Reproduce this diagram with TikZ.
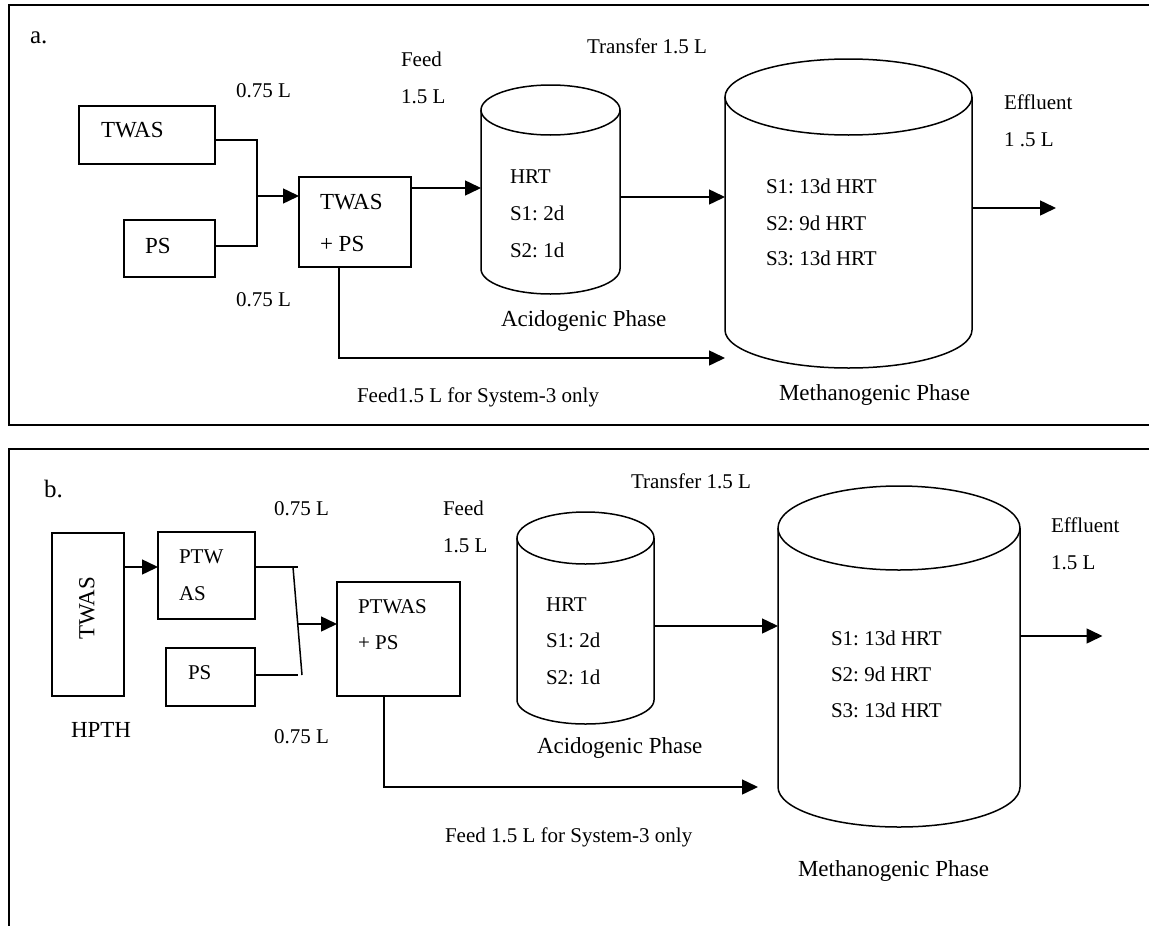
\documentclass[tikz,border=0pt]{standalone}
\usepackage{fontspec}
\setmainfont{Liberation Serif}
\usetikzlibrary{arrows.meta}
\frenchspacing
\begin{document}
\begin{tikzpicture}[x=1pt,y=-1pt,
  lbl/.style={inner sep=0pt, outer sep=0pt, anchor=base west, font=\fontsize{21}{25}\selectfont},
  big/.style={lbl, font=\fontsize{23}{27}\selectfont},
  panel/.style={lbl, font=\fontsize{25}{29}\selectfont},
  box/.style={draw, line width=1.5pt, inner sep=0pt, outer sep=0pt, anchor=north west},
  body/.style={inner sep=0pt, outer sep=0pt, anchor=north west},
  conn/.style={line width=1.5pt},
  arr/.style={conn, -{Triangle[length=16pt,width=15pt]}},
  frame/.style={line width=2pt},
  tank/.style={line width=1.5pt}
]
\useasboundingbox (0,0) rectangle (1149,926);

% ================= panel a =================
\draw[frame] (1149,5) -- (9,5) -- (9,425) -- (1149,425);
\node[panel] (la) at (30,43) {a.};

\node[box, minimum width=136pt, minimum height=58pt] (twasA) at (79,106) {};
\node[big] (twasAt) at (101,137) {TWAS};
\node[box, minimum width=91pt, minimum height=57pt] (psA) at (124,220) {};
\node[big] (psAt) at (145,253) {PS};
\node[box, minimum width=112pt, minimum height=90pt] (mixA) at (299,177) {};
\node[big] (mixAt1) at (320,209) {TWAS};
\node[big] (mixAt2) at (320,251) {+ PS};

\node[lbl] (v1A) at (236,97) {0.75 L};
\node[lbl] (v2A) at (236,306) {0.75 L};
\node[lbl] (feedAt) at (401,66) {Feed};
\node[lbl] (feedAv) at (401,103) {1.5 L};
\node[lbl] (transA) at (587,53) {Transfer 1.5 L};

% acidogenic tank a
\node[body, minimum width=139pt, minimum height=159pt] (acidA) at (481,110) {};
\draw[tank] (acidA.north) ellipse[x radius=69.5, y radius=25];
\draw[tank] (acidA.north west) -- (acidA.south west)
  arc[start angle=180, end angle=0, x radius=69.5, y radius=25] -- (acidA.north east);
\node[lbl] (acAt1) at (510,183) {HRT};
\node[lbl] (acAt2) at (510,220) {S1: 2d};
\node[lbl] (acAt3) at (510,257) {S2: 1d};
\node[big] (acAl) at (501,326) {Acidogenic Phase};

% methanogenic tank a
\node[body, minimum width=247pt, minimum height=233pt] (methA) at (725,97) {};
\draw[tank] (methA.north) ellipse[x radius=123.5, y radius=38];
\draw[tank] (methA.north west) -- (methA.south west)
  arc[start angle=180, end angle=0, x radius=123.5, y radius=38] -- (methA.north east);
\node[lbl] (meAt1) at (766,193) {S1: 13d HRT};
\node[lbl] (meAt2) at (766,230) {S2: 9d HRT};
\node[lbl] (meAt3) at (766,265) {S3: 13d HRT};
\node[big] (meAl) at (779,400) {Methanogenic Phase};

\node[lbl] (effA1) at (1004,109) {Effluent};
\node[lbl] (effA2) at (1004,146) {1 .5 L};
\node[lbl] (s3A) at (357,402) {Feed1.5 L for System-3 only};

% connectors a
\coordinate (jA) at (257,196);
\coordinate (feedA) at (725,358);
\coordinate (outA) at (1056,208);
\draw[conn] (twasA.north east) ++(0,34) -| (jA);
\draw[conn] (psA.north east) ++(0,26) -| (jA);
\draw[arr] (jA) -- (jA -| mixA.west);
\draw[arr] (mixA.north east) ++(0,11) coordinate (m1) -- (m1 -| acidA.west);
\draw[arr] (acidA.north east) ++(0,87) coordinate (t1) -- (t1 -| methA.west);
\draw[arr] (methA.north east) ++(0,111) -- (outA);
\draw[arr] (mixA.south west) ++(40,0) |- (feedA);

% ================= panel b =================
\draw[frame] (1149,449) -- (9,449) -- (9,926);
\node[panel] (lb) at (44,497) {b.};

\node[box, minimum width=72pt, minimum height=163pt] (twasB) at (52,533) {};
\node[big, rotate=90, anchor=center] (twasBt) at (87,608) {TWAS};
\node[big] (hpth) at (71,737) {HPTH};
\node[box, minimum width=97pt, minimum height=87pt] (ptwB) at (158,532) {};
\node[lbl] (ptwBt1) at (179,563) {PTW};
\node[lbl] (ptwBt2) at (179,600) {AS};
\node[box, minimum width=89pt, minimum height=58pt] (psB) at (166,648) {};
\node[lbl] (psBt) at (188,679) {PS};
\node[box, minimum width=123pt, minimum height=114pt] (mixB) at (337,582) {};
\node[lbl] (mixBt1) at (358,613) {PTWAS};
\node[lbl] (mixBt2) at (358,649) {+ PS};

\node[lbl] (v1B) at (274,515) {0.75 L};
\node[lbl] (v2B) at (274,743) {0.75 L};
\node[lbl] (feedBt) at (443,515) {Feed};
\node[lbl] (feedBv) at (443,552) {1.5 L};
\node[lbl] (transB) at (631,488) {Transfer 1.5 L};

% acidogenic tank b
\node[body, minimum width=137pt, minimum height=162pt] (acidB) at (517,538) {};
\draw[tank] (acidB.north) ellipse[x radius=68.5, y radius=26];
\draw[tank] (acidB.north west) -- (acidB.south west)
  arc[start angle=180, end angle=0, x radius=68.5, y radius=24] -- (acidB.north east);
\node[lbl] (acBt1) at (546,611) {HRT};
\node[lbl] (acBt2) at (546,647) {S1: 2d};
\node[lbl] (acBt3) at (546,684) {S2: 1d};
\node[big] (acBl) at (537,753) {Acidogenic Phase};

% methanogenic tank b
\node[body, minimum width=242pt, minimum height=259pt] (methB) at (778,528) {};
\draw[tank] (methB.north) ellipse[x radius=121, y radius=42];
\draw[tank] (methB.north west) -- (methB.south west)
  arc[start angle=180, end angle=0, x radius=121, y radius=40] -- (methB.north east);
\node[lbl] (meBt1) at (831,645) {S1: 13d HRT};
\node[lbl] (meBt2) at (831,681) {S2: 9d HRT};
\node[lbl] (meBt3) at (831,717) {S3: 13d HRT};
\node[big] (meBl) at (798,876) {Methanogenic Phase};

\node[lbl] (effB1) at (1051,532) {Effluent};
\node[lbl] (effB2) at (1051,569) {1.5 L};
\node[lbl] (s3B) at (445,842) {Feed 1.5 L for System-3 only};

% connectors b
\coordinate (jBt) at (298,567);
\coordinate (jBb) at (298,675);
\coordinate (barT) at (293,567);
\coordinate (barB) at (302,675);
\coordinate (jBm) at (297.5,624);
\coordinate (feedB) at (758,787);
\coordinate (outB) at (1102.5,636);
\draw[arr] (twasB.north east) ++(0,34) coordinate (w1) -- (w1 -| ptwB.west);
\draw[conn] (ptwB.north east) ++(0,35) -- (jBt);
\draw[conn] (psB.north east) ++(0,27) -- (jBb);
\draw[conn] (barT) -- (barB);
\draw[arr] (jBm) -- (jBm -| mixB.west);
\draw[arr] (acidB.north east) ++(0,88) coordinate (t2) -- (t2 -| methB.west);
\draw[arr] (methB.north east) ++(0,108) -- (outB);
\draw[arr] (mixB.south west) ++(47,0) |- (feedB);
\end{tikzpicture}
\end{document}
